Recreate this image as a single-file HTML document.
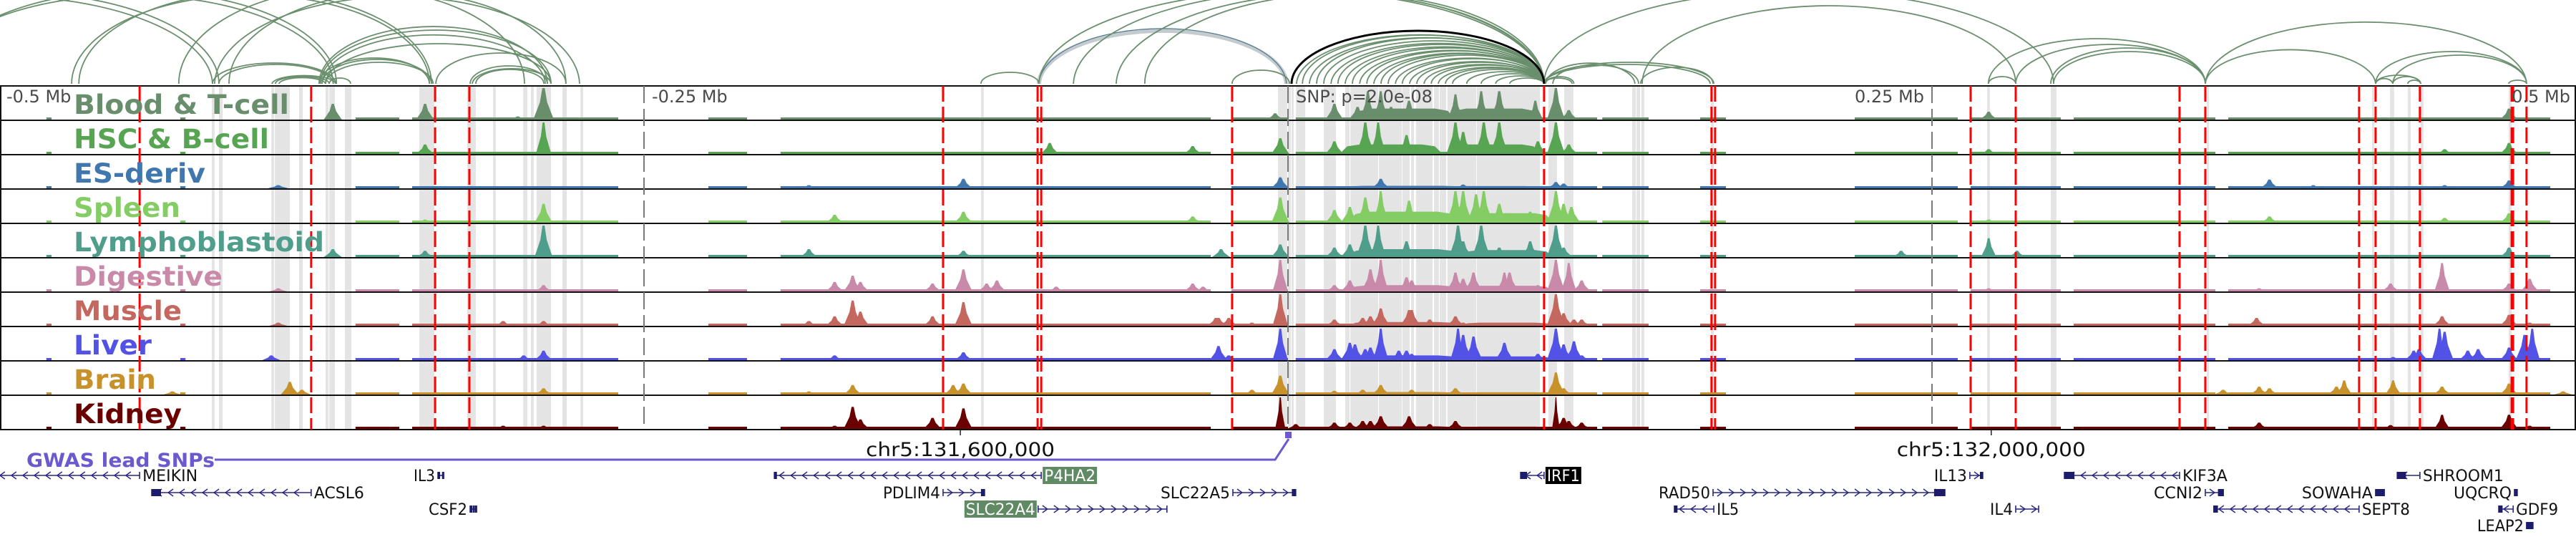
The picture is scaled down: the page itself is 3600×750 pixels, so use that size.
<!DOCTYPE html>
<html><head><meta charset="utf-8">
<style>
html,body{margin:0;padding:0;background:#fff;}
svg{display:block;}
</style></head>
<body>
<svg id="chart" width="3600" height="750" viewBox="0 0 3600 750" xmlns="http://www.w3.org/2000/svg">
<rect x="0" y="0" width="3600" height="750" fill="#fff"/>
<g id="bands"></g>
<g id="tracks"></g>
<g id="vlines"></g>
<g id="arcs"></g>
<g id="labels"></g>
<g id="genes"></g>
</svg>
<script>
// ---- data (genomic positions in kb from window start, window = 1000 kb) ----
const trackNames = ["Blood & T-cell","HSC & B-cell","ES-deriv","Spleen","Lymphoblastoid","Digestive","Muscle","Liver","Brain","Kidney"];
const trackColors = ["#688e6b","#57a453","#4077ae","#84cd65","#4f9d8b","#c98aa9","#c4675f","#5252e6","#c8922b","#6b0000"];
const labelWidths = [301,273,184,149,350,208,151,109,115,151];
const coverage = [[18,20],[70,72],[138,155],[160,240],[275,290],[303,470],[478,500],[503,620],[622,640],[660,670],[720,760],[765,800],[805,860],[865,990]];
const peaksBlood = [[129.2,.5],[165,.5],[211,1.0,4],[201,.1],[495,.2],[518,.5],[527,.4],[531,.9,3],[536,.9,3],[540,.4],[547,.6],[565,.8,3],[575,.9,3],[582,.9],[596,.6,3],[604,1.0],[609,.3],[772,.25],[974,.35],[545,.35,20],[580,.35,18]];
const peaksHSC = [[165,.3],[211,1.0,3],[407.5,.35],[463,.25],[497,.5],[518,.4],[530,1.0],[535,1.0,3],[546,.6],[565,1.0],[568,.7],[576,1.0],[582,1.0],[597,.4],[604,1.0],[609,.3],[772,.15],[974,.35],[949,.15],[540,.3,20],[580,.3,18]];
const peaksES = [[108,.1,4],[374,.3],[314,.1],[497,.35],[536,.3],[568,.12],[604,.2],[607,.15],[881,.28],[898,.1],[949,.1],[974,.25],[545,.08,25],[580,.07,20]];
const peaksSpleen = [[211,.6],[165,.1],[324,.25],[374,.35],[463,.2],[497,.8],[518,.4],[524,.5],[530,.8],[536,1.0,3],[547,.7],[555,.3],[565,1.0],[568,1.0],[573,.9],[576,1.0],[582,.6],[586,.3],[594,.35],[604,1.0],[607,.6],[610,.5],[881,.2],[949,.15],[974,.3],[772,.1],[545,.35,22],[585,.3,18]];
const peaksLympho = [[129.2,.25],[165,.2],[211,1.0],[314,.25],[374,.2],[474,.25],[497,.4],[518,.3],[524,.4],[530,1.0],[535,1.0,3],[546,.5],[566,1.0],[568,.5],[575,1.0],[582,.3],[594,.5],[604,1.0],[607,.3],[738,.2],[772,.6,3],[783,.2],[974,.3],[545,.25,22],[585,.22,18]];
const peaksDigestive = [[108,.1],[211,.2],[324,.3],[331,.5],[334,.3],[362,.25],[374,.7],[383,.25],[387,.35],[410,.15],[463,.25],[467,.15],[497,1.0,3],[518,.2],[524,.35],[532,.7],[536,1.0,3],[546,.45],[548,.35],[555,.1],[565,.6],[568,.4],[572,.6],[584,.6,3],[586,.6],[597,.2],[604,1.0],[609,.9,3],[614,.35],[772,.1],[877,.1],[928,.25],[948,.9,3],[974,.25],[982,.4],[545,.2,22],[585,.18,18]];
const peaksMuscle = [[195.3,.15],[211,.15],[108,.1],[314,.15],[324,.3],[331,.8],[334,.45],[362,.3],[374,.75],[472,.25],[473,.25],[477,.25],[486,.1],[497,1.0,3],[518,.2],[529,.25],[532,.3],[536,.55],[547,.5],[548,.5],[555,.2],[565,.3],[568,.1],[604,1.0],[607,.4],[611,.2],[614,.2],[876,.25],[948,.3],[974,.35],[982,.1],[545,.12,22],[585,.1,18]];
const peaksLiver = [[105.3,.15],[203.3,.15],[211,.3],[324,.15],[374,.25],[473,.45],[477,.15],[497,1.0,3],[518,.35],[524,.55],[526,.5],[530,.35],[532,.4],[536,1.0,3],[543,.3],[546,.3],[548,.2],[566,1.0,3],[568,.8],[572,.75],[584,.55],[597,.2],[604,1.0],[607,.5],[611,.6],[614,.15],[937,.3],[939,.35],[947,1.0,3],[949,.9],[958,.3],[962,.35],[974,.4],[980,.8],[983,1.0,3],[929,.1],[545,.15,22],[585,.12,18]];
const peaksBrain = [[66.9,.1],[112.5,.4],[117.2,.15],[211,.2],[314,.1],[331,.3],[374,.35],[370,.3],[486,.15],[497,.6],[518,.12],[529,.15],[536,.3],[548,.15],[565,.2],[604,.7],[607,.2],[863,.15],[877,.25],[881,.2],[910,.45,3],[907,.25],[929,.45,3],[948,.25],[974,.35],[995,.1],[545,.08,22],[585,.07,18]];
const peaksKidney = [[211,.1],[195.3,.1],[324,.1],[331,.7],[334,.3],[362,.35],[374,.65],[497,1.0,2],[503,.15],[518,.2],[524,.2],[529,.25],[532,.25],[536,.4],[547,.4],[555,.15],[565,.25],[604,1.0,1.5],[607,.35],[609,.25],[614,.2],[877,.2],[928,.12],[948,.45,3],[974,.45],[982,.1],[545,.08,22],[585,.07,18]];
const trackPeaks = [peaksBlood,peaksHSC,peaksES,peaksSpleen,peaksLympho,peaksDigestive,peaksMuscle,peaksLiver,peaksBrain,peaksKidney];
const bandStarts = [82.2,85,105.3,106.7,116.1,126.4,127.8,133.9,162.8,181.4,191.4,203.1,206.1,208.3,218.3,225.3,380.8,496.1,500,501.4,503.1,513.9,522.2,524.2,535.3,544.4,547.8,549.7,556.7,558.9,561.9,573.3,601.1,607.2,633.6,635.3,637.2,664.2,771.4,796.1,856.7,920.8,927.8,934.7,939.7,973.9];
const bandEnds   = [83.3,86.4,106.4,112.5,117.5,127.5,130,136.4,168.6,184.7,192.5,204.7,207.2,213.9,220,226.4,381.9,499.7,501.1,502.2,506.7,518.6,523.9,535,544.2,547.2,548.9,556.1,558.6,561.4,573.1,597.8,604.4,610.8,635,636.7,638.3,665.3,772.5,798.3,857.5,921.7,929.4,935.8,940.8,975];
const snpPositions = [54.2,120.8,168.9,182.2,366.1,402.8,404.2,478.3,599.4,664.4,665.8,765,782.5,846.1,856.1,915.8,922.2,939.4,975.3,980.8];
const scaleTicks = [0,250,500,750,1000];
const scaleTickLabels = ["-0.5 Mb","-0.25 Mb","SNP: p=2.0e-08","0.25 Mb","0.5 Mb"];
const arcStarts = [-84.2,-77.8,-27.8,-25,27.8,30.6,69.4,83.3,88.9,82.5,85,105.6,106.9,108.3,123.9,125,126.4,123.9,124.4,125,126.4,169.2,182.5,183.3,184.7,127.8,380.8,403.3,478.3,
 503.3,505.6,508.3,511.1,513.9,516.7,519.4,522.2,525,527.8,530.6,533.3,536.1,538.9,541.7,544.4,547.2,550,552.8,555.6,558.3,561.1,563.9,569.4,575,580.6,586.1,
 416.7,433.3,444.4,599.4,599.4,599.4,599.4,600,636.9,600,602.8,637.5,771.9,771.9,782.5,797.2,796.1,856.1,856.1,922.2,922.2,928.9,934.7,922.2,928.9,973.9];
const arcEnds = [82.5,85,129.4,130.6,166.7,167.5,203.6,225,219.7,130.3,129.4,130.3,127.8,126.4,166.7,167.5,168.1,212.5,213.9,211.7,213.9,219.7,212.5,213.9,211.1,136.1,403.3,599.4,500.6,
 599.4,599.4,599.4,599.4,599.4,599.4,599.4,599.4,599.4,599.4,599.4,599.4,599.4,599.4,599.4,599.4,599.4,599.4,599.4,599.4,599.4,599.4,599.4,599.4,599.4,599.4,599.4,
 599.4,599.4,599.4,797.2,665.3,663.9,610.3,611,665,634.7,636.1,782.5,782.5,856.1,856.1,856.1,856.1,980.8,922.2,939.7,928.9,939.7,939.7,980.8,980.8,980.8];
const arcScores = [125,128,126,130,124,128,134,124,128,29,27,12,10,9,36,34,30,80,75,70,56,43,25,22,20,8,16,132,19,
 70,68,66,64,60,58,55,53,50,48,46,44,42,40,37,35,32,30,28,26,24,22,20,17,14,11,8,
 132,128,126,130,30,27,8,10,23,30,26,109,10,63,55,45,50,88,49,12,8,10,5,45,40,5];
const leadArc = [501.4,599.4,74];
const ldArc = [403.3,499.4,76];
const leadSnp = 500;
const genes = [
 {name:"MEIKIN",s:-2,e:54.2,strand:-1,row:0,side:"R",w:77,boxes:[]},
 {name:"ACSL6",s:58.9,e:120.8,strand:-1,row:1,side:"R",w:70,boxes:[[58.9,62.5]]},
 {name:"IL3",s:170,e:172.2,strand:1,row:0,side:"L",w:30,boxes:[[170,170.6],[171.6,172.2]]},
 {name:"CSF2",s:182.5,e:184.7,strand:1,row:2,side:"L",w:54,boxes:[[182.5,182.8],[183.5,183.8],[184.4,184.7]]},
 {name:"P4HA2",s:300.6,e:404.2,strand:-1,row:0,side:"R",w:72,boxes:[[300.6,301.6]],hl:"#5f8a63"},
 {name:"PDLIM4",s:366.1,e:382.2,strand:1,row:1,side:"L",w:80,boxes:[[380.8,382.2]]},
 {name:"SLC22A4",s:403,e:453,strand:1,row:2,side:"L",w:97,boxes:[],hl:"#5f8a63"},
 {name:"SLC22A5",s:478.6,e:503,strand:1,row:1,side:"L",w:97,boxes:[[501.5,503]]},
 {name:"IRF1",s:590.3,e:599.4,strand:-1,row:0,side:"R",w:46,boxes:[[590.3,592.8]],hl:"#000"},
 {name:"RAD50",s:665,e:755,strand:1,row:1,side:"L",w:72,boxes:[[750.8,755]]},
 {name:"IL5",s:650,e:665.3,strand:-1,row:2,side:"R",w:31,boxes:[[650,651.2]]},
 {name:"IL13",s:764.7,e:769.7,strand:1,row:0,side:"L",w:46,boxes:[[768.6,769.7]]},
 {name:"IL4",s:782.5,e:791.4,strand:1,row:2,side:"L",w:32,boxes:[]},
 {name:"KIF3A",s:801.4,e:846.1,strand:-1,row:0,side:"R",w:63,boxes:[[801.4,805.3]]},
 {name:"CCNI2",s:856.1,e:863.1,strand:1,row:1,side:"L",w:68,boxes:[[861,863.1]]},
 {name:"SOWAHA",s:922.2,e:925.6,strand:1,row:1,side:"L",w:99,boxes:[[922.2,925.6]]},
 {name:"SEPT8",s:859.4,e:915.8,strand:-1,row:2,side:"R",w:67,boxes:[[859.4,861]]},
 {name:"SHROOM1",s:930.6,e:939.4,strand:-1,row:0,side:"R",w:113,boxes:[[930.6,934]]},
 {name:"UQCRQ",s:976.1,e:977.2,strand:1,row:1,side:"L",w:81,boxes:[[976.1,977.2]]},
 {name:"GDF9",s:970,e:975.6,strand:-1,row:2,side:"R",w:59,boxes:[[970,971.5]]},
 {name:"LEAP2",s:980.8,e:983.3,strand:1,row:3,side:"L",w:65,boxes:[[980.8,983.3]]}
];
const coordLabels = ["chr5:131,600,000","chr5:132,000,000"];
const coordPositions = [372.8,773];

// ---- layout ----
const NS = "http://www.w3.org/2000/svg";
const X = kb => kb * 3.6;
const TOP = 120, TH = 48, NT = 10, BOT = TOP + TH * NT, MAXH = 44;
const ARC_BASE = 117;
const rowY = [664, 688, 711, 734];
function mk(tag, attrs, parent){ const el=document.createElementNS(NS,tag); for(const k in attrs) el.setAttribute(k,attrs[k]); parent.appendChild(el); return el; }

// bands
const gB = document.getElementById('bands');
for (let i=0;i<bandStarts.length;i++){
  const r = mk('rect',{x:X(bandStarts[i]),y:TOP,width:Math.max(1,X(bandEnds[i])-X(bandStarts[i])),height:BOT-TOP,fill:'#e4e4e4'},gB);
  
  
}

// tracks
const gT = document.getElementById('tracks');
for (let t=0;t<NT;t++){
  const base = TOP + TH*(t+1) - 1;
  const g = mk('g',{fill:trackColors[t]},gT);
  
  
  coverage.forEach(c=>{
    const r = mk('rect',{x:X(c[0]),y:base-3,width:X(c[1])-X(c[0]),height:3},g);
    
    
  });
  trackPeaks[t].forEach(p=>{
    const cx = X(p[0]), h = p[1]*MAXH, w = X(p[2]||3.5);
    let pts;
    if ((p[2]||0) > 10) {
      pts = [[cx-w,base],[cx-w*0.85,base-h*0.8],[cx-w*0.6,base-h],[cx+w*0.6,base-h],[cx+w*0.85,base-h*0.8],[cx+w,base]];
    } else {
      pts = [[cx-w,base],[cx-w*0.7,base-h*0.25],[cx-w*0.35,base-h*0.55],[cx-w*0.12,base-h],[cx+w*0.12,base-h],[cx+w*0.35,base-h*0.55],[cx+w*0.7,base-h*0.25],[cx+w,base]];
    }
    const pg = mk('polygon',{points:pts.map(q=>q[0].toFixed(1)+','+q[1].toFixed(1)).join(' ')},g);
    
    
  });
}
// track frames
for (let t=0;t<=NT;t++){
  const y = TOP + TH*t;
  const l = mk('line',{x1:0,x2:3600,y1:y,y2:y,stroke:'#111','stroke-width':2},gT);
  
  
}
mk('line',{x1:1,x2:1,y1:TOP,y2:BOT,stroke:'#111','stroke-width':2},gT);
mk('line',{x1:3599,x2:3599,y1:TOP,y2:BOT,stroke:'#111','stroke-width':2},gT);

// vertical lines
const gV = document.getElementById('vlines');
scaleTicks.forEach((k,i)=>{
  if (k===0||k===1000) return;
  const l = mk('line',{x1:X(k),x2:X(k),y1:TOP,y2:BOT,stroke:'#7a7a7a','stroke-width':2,'stroke-dasharray':'24 8'},gV);
  
  
});
snpPositions.forEach((k,i)=>{
  const l = mk('line',{x1:X(k),x2:X(k),y1:TOP,y2:BOT,stroke:'#ff0000','stroke-width':(Math.abs(k-975.3)<0.01?5:3),'stroke-dasharray':'22 7'},gV);
  
  
});
// scale labels
scaleTickLabels.forEach((s,i)=>{
  const k = scaleTicks[i];
  let x = X(k), anchor='start';
  if (i===0) x = 9;
  else if (i===1) x = X(k)+11;
  else if (i===2) x = X(k)+11;
  else if (i===3) { x = X(k)-11; anchor='end'; }
  else { x = 3592; anchor='end'; }
  const tx = mk('text',{x:x,y:143,'font-family':'"DejaVu Sans","Liberation Sans",sans-serif','font-size':24,fill:'#4a4a4a','text-anchor':anchor},gV);
  tx.textContent = s;
  
  
});

// arcs
const gA = document.getElementById('arcs');
function arcPath(a,b,h){ const x1=X(a),x2=X(b),rx=(x2-x1)/2; return `M${x1.toFixed(1)},${ARC_BASE} A${rx.toFixed(1)},${h} 0 0 1 ${x2.toFixed(1)},${ARC_BASE}`; }
{
  const p1 = mk('path',{d:arcPath(ldArc[0],ldArc[1],ldArc[2]),fill:'none',stroke:'#c3cbcf','stroke-width':6},gA);
  
  
  const p2 = mk('path',{d:arcPath(ldArc[0],ldArc[1],ldArc[2]+3),fill:'none',stroke:'#50788f','stroke-width':1.2},gA);
  
  
}
for (let i=0;i<arcStarts.length;i++){
  const p = mk('path',{d:arcPath(arcStarts[i],arcEnds[i],arcScores[i]),fill:'none',stroke:'#6a8f6d','stroke-width':1.8},gA);
  
  
}
{
  const p = mk('path',{d:arcPath(leadArc[0],leadArc[1],leadArc[2]),fill:'none',stroke:'#000','stroke-width':3},gA);
  
  
}

// track labels
const gL = document.getElementById('labels');
trackNames.forEach((n,t)=>{
  const tx = mk('text',{x:103,y:TOP+TH*t+39,'font-family':'"DejaVu Sans","Liberation Sans",sans-serif','font-weight':'bold','font-size':37,fill:trackColors[t],textLength:labelWidths[t],lengthAdjust:'spacingAndGlyphs'},gL);
  tx.textContent = n;
  
  
});

// gene track
const gG = document.getElementById('genes');
coordLabels.forEach((s,i)=>{
  const x = X(coordPositions[i]);
  const tk = mk('line',{x1:x,x2:x,y1:BOT,y2:BOT+8,stroke:'#222','stroke-width':1.5},gG);
  
  
  const tx = mk('text',{x:x,y:637,'text-anchor':'middle','font-family':'"DejaVu Sans","Liberation Sans",sans-serif','font-size':27,fill:'#111',textLength:264,lengthAdjust:'spacingAndGlyphs'},gG);
  tx.textContent = s;
  
  
});
{
  const sx = X(leadSnp);
  const pl = mk('polyline',{points:`300,642 ${sx-18},642 ${sx+1},613`,fill:'none',stroke:'#6a5acd','stroke-width':3},gG);
  
  
  const sq = mk('rect',{x:sx-4,y:603,width:9,height:9,fill:'#6a5acd'},gG);
  
  
  const tx = mk('text',{x:37,y:652,'font-family':'"DejaVu Sans","Liberation Sans",sans-serif','font-weight':'bold','font-size':27,fill:'#6a5acd',textLength:263,lengthAdjust:'spacingAndGlyphs'},gG);
  tx.textContent = 'GWAS lead SNPs';
  
  
}
genes.forEach(g=>{
  const y = rowY[g.row];
  const grp = mk('g',{},gG);
  
  
  const x1 = X(g.s), x2 = X(g.e);
  mk('line',{x1:x1,x2:x2,y1:y,y2:y,stroke:'#262680','stroke-width':1.6},grp);
  for (let x=x1+10; x<x2-6; x+=16){
    const d = g.strand>0 ? `M${x-4},${y-5} L${x+3},${y} L${x-4},${y+5}` : `M${x+4},${y-5} L${x-3},${y} L${x+4},${y+5}`;
    mk('path',{d:d,fill:'none',stroke:'#262680','stroke-width':1.4},grp);
  }
  mk('line',{x1:x1,x2:x1,y1:y-5,y2:y+5,stroke:'#262680','stroke-width':1.6},grp);
  mk('line',{x1:x2,x2:x2,y1:y-5,y2:y+5,stroke:'#262680','stroke-width':1.6},grp);
  g.boxes.forEach(b=>{ mk('rect',{x:X(b[0]),y:y-5,width:Math.max(3,X(b[1])-X(b[0])),height:10,fill:'#1c1c6b'},grp); });
  const lx = g.side==='R' ? x2+4 : x1-4;
  const tx0 = g.side==='R' ? lx : lx - g.w;
  if (g.hl){ mk('rect',{x:tx0-2,y:y-12,width:g.w+4,height:24,fill:g.hl},grp); }
  const tx = mk('text',{x:tx0,y:y+8,'font-family':'"DejaVu Sans","Liberation Sans",sans-serif','font-size':22,fill:g.hl?'#fff':'#111',textLength:g.w,lengthAdjust:'spacingAndGlyphs'},grp);
  tx.textContent = g.name;
});
</script>
</body></html>
